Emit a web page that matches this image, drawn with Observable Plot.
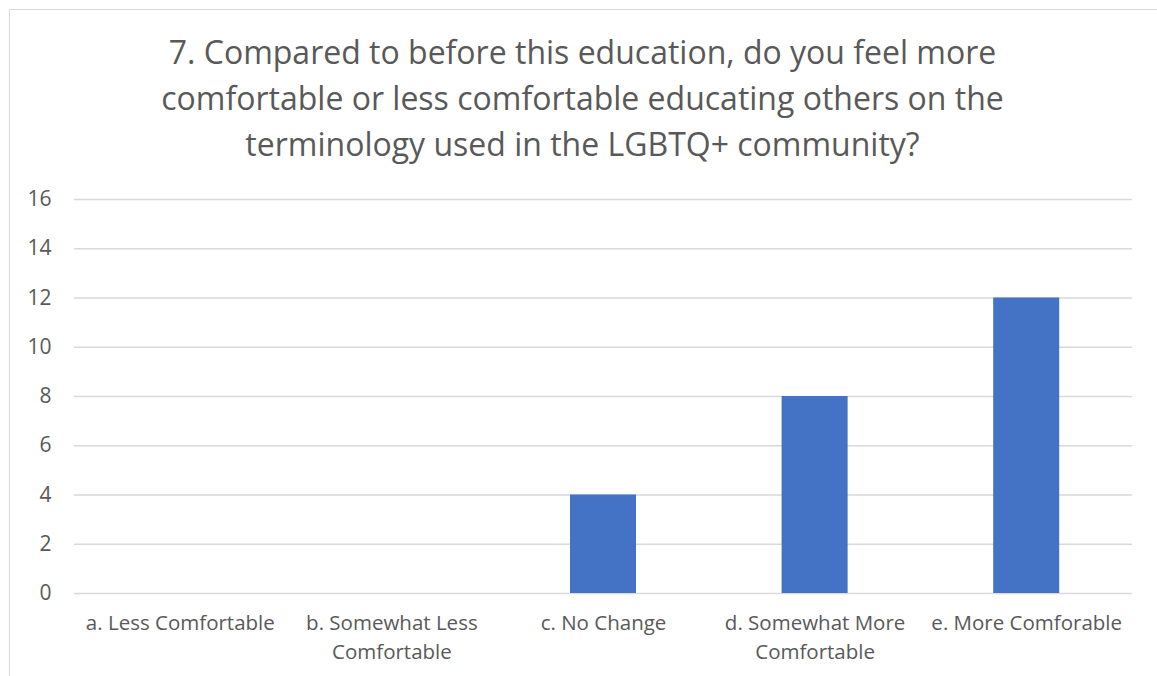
<!DOCTYPE html>
<html>
<head>
<meta charset="utf-8">
<script src="https://cdn.jsdelivr.net/npm/d3@7"></script>
<script src="https://cdn.jsdelivr.net/npm/@observablehq/plot@0.6"></script>
<style>
  html, body { margin: 0; padding: 0; background: #fff; }
  #wrap { position: relative; width: 1157px; height: 676px; overflow: hidden; background: #fff; font-family: "Open Sans", sans-serif; }
  #frame { position: absolute; left: 9px; top: 9px; width: 1300px; height: 800px; border-left: 1.5px solid #d9d9d9; border-top: 1.5px solid #d9d9d9; pointer-events: none; }
  #title { box-sizing: border-box; height: 170px; padding-top: 29px; padding-left: 8px; text-align: center; color: #595959; font-size: 32px; line-height: 46px; }
  #chart svg { display: block; }
</style>
</head>
<body>
<div id="wrap">
  <div id="frame"></div>
  <div id="title">7. Compared to before this education, do you feel more<br>comfortable or less comfortable educating others on the<br>terminology used in the LGBTQ+ community?</div>
  <div id="chart"></div>
</div>
<script>
const categories = [
  "a. Less Comfortable",
  "b. Somewhat Less\nComfortable",
  "c. No Change",
  "d. Somewhat More\nComfortable",
  "e. More Comforable"
];
const counts = [0, 0, 4, 8, 12];
const yTicks = [0, 2, 4, 6, 8, 10, 12, 14, 16];

const data = categories.map((c, i) => ({category: c, count: counts[i]}));

const chart = Plot.plot({
  width: 1157,
  height: 506,
  marginTop: 29,
  marginBottom: 83,
  marginLeft: 74,
  marginRight: 25,
  style: {fontFamily: "'Open Sans', sans-serif", fontSize: "20px", color: "#595959", background: "#fff"},
  x: {domain: categories, paddingInner: 0.688, paddingOuter: 0.344, round: false},
  y: {domain: [0, 16]},
  marks: [
    Plot.gridY(yTicks, {stroke: "#d9d9d9", strokeOpacity: 1, strokeWidth: 1.5}),
    Plot.barY(data, {x: "category", y: "count", fill: "#4472c4"}),
    Plot.axisY(yTicks, {tickSize: 0, tickPadding: 23, fontSize: 21, label: null}),
    Plot.axisX({tickSize: 0, tickPadding: 16, fontSize: 20.5, lineHeight: 1.42, label: null})
  ]
});
document.getElementById("chart").appendChild(chart);
</script>
</body>
</html>
